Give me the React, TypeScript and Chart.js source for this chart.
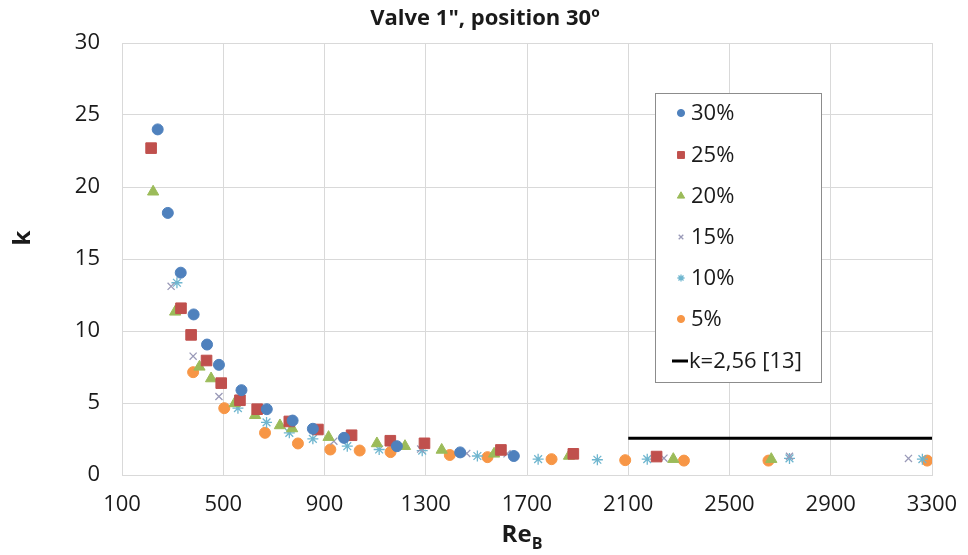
import React, { useEffect, useRef } from "react";
import { Chart, registerables } from "chart.js";
import { drawPoint } from "chart.js/helpers";

Chart.register(...registerables);

const TITLE = "Valve 1\", position 30º";
const X_TITLE = "Re";
const X_TITLE_SUB = "B";
const Y_TITLE = "k";
const X_MIN = 100;
const X_MAX = 3300;
const X_STEP = 400;
const Y_MIN = 0;
const Y_MAX = 30;
const Y_STEP = 5;

const s30x = [241, 281, 332, 383, 436, 483, 572, 672, 774, 854, 977, 1186, 1436, 1648];
const s30y = [24.0, 18.2, 14.05, 11.15, 9.06, 7.65, 5.89, 4.57, 3.78, 3.21, 2.58, 2.0, 1.57, 1.32];

const s25x = [215, 333, 373, 434, 492, 566, 634, 761, 874, 1007, 1160, 1295, 1597, 1883, 2212];
const s25y = [22.7, 11.58, 9.73, 7.95, 6.38, 5.19, 4.57, 3.72, 3.16, 2.76, 2.38, 2.2, 1.74, 1.47, 1.28];

const s20x = [223, 310, 406, 452, 545, 626, 724, 772, 916, 1107, 1218, 1363, 1570, 1866, 2278, 2665];
const s20y = [19.67, 11.33, 7.51, 6.7, 4.97, 4.15, 3.44, 3.23, 2.63, 2.19, 2.0, 1.74, 1.47, 1.32, 1.1, 1.1];

const s15x = [294, 381, 483, 937, 1280, 1462, 1621, 2241, 2737, 3207];
const s15y = [13.1, 8.25, 5.45, 2.35, 1.8, 1.5, 1.47, 1.17, 1.3, 1.15];

const s10x = [317, 558, 671, 761, 854, 990, 1116, 1286, 1504, 1744, 1978, 2175, 2737, 3262];
const s10y = [13.35, 4.64, 3.65, 2.93, 2.51, 2.0, 1.77, 1.69, 1.32, 1.1, 1.06, 1.1, 1.15, 1.1];

const s5x = [381, 504, 665, 795, 923, 1039, 1161, 1395, 1544, 1797, 2088, 2320, 2654, 3281];
const s5y = [7.14, 4.64, 2.93, 2.19, 1.77, 1.7, 1.59, 1.39, 1.24, 1.1, 1.03, 1.0, 1.0, 1.0];

const refX = [2100, 3300];
const refY = [2.56, 2.56];

const seriesLabels = ["30%", "25%", "20%", "15%", "10%", "5%", "k=2,56 [13]"];

const FONT = "'Open Sans', 'Liberation Sans', sans-serif";

const zip = (xs: number[], ys: number[]) => xs.map((x, i) => ({ x, y: ys[i] }));

const titlesPlugin = {
  id: "customTitles",
  afterDraw(chart: any) {
    const ctx = chart.ctx;
    const area = chart.chartArea;
    ctx.save();
    ctx.fillStyle = "#1a1a1a";
    ctx.font = `bold 22px ${FONT}`;
    ctx.textAlign = "center";
    ctx.textBaseline = "middle";
    ctx.fillText(TITLE, 485, 19);
    ctx.font = `bold 24px ${FONT}`;
    const w1 = ctx.measureText(X_TITLE).width;
    ctx.font = `bold 16px ${FONT}`;
    const w2 = ctx.measureText(X_TITLE_SUB).width;
    const cx = (area.left + area.right) / 2;
    const start = cx - (w1 + w2) / 2 - 5;
    ctx.textAlign = "left";
    ctx.font = `bold 24px ${FONT}`;
    ctx.fillText(X_TITLE, start, 535);
    ctx.font = `bold 16px ${FONT}`;
    ctx.fillText(X_TITLE_SUB, start + w1, 544);
    ctx.translate(23, 238);
    ctx.rotate(-Math.PI / 2);
    ctx.textAlign = "center";
    ctx.font = `bold 24px ${FONT}`;
    ctx.fillText(Y_TITLE, 0, 0);
    ctx.restore();

    const bx = 655, by = 93, bw = 166, bh = 289;
    ctx.save();
    ctx.fillStyle = "#ffffff";
    ctx.fillRect(bx, by, bw, bh);
    ctx.strokeStyle = "#8c8c8c";
    ctx.lineWidth = 1;
    ctx.strokeRect(bx + 0.5, by + 0.5, bw, bh);
    const rows = [113, 155, 196, 237, 278, 319, 361];
    chart.data.datasets.forEach((ds: any, i: number) => {
      const yy = rows[i];
      if (ds.showLine) {
        ctx.strokeStyle = ds.borderColor;
        ctx.lineWidth = 3;
        ctx.beginPath();
        ctx.moveTo(672, yy);
        ctx.lineTo(688, yy);
        ctx.stroke();
      } else {
        ctx.fillStyle = ds.pointBackgroundColor;
        ctx.strokeStyle = ds.pointBorderColor;
        ctx.lineWidth = ds.pointBorderWidth;
        drawPoint(
          ctx,
          {
            pointStyle: ds.pointStyle,
            radius: ds.pointRadius * 0.65,
            borderWidth: ds.pointBorderWidth,
            rotation: 0,
          } as any,
          681,
          yy
        );
      }
      ctx.fillStyle = "#1a1a1a";
      ctx.font = `22px ${FONT}`;
      ctx.textAlign = "left";
      ctx.textBaseline = "middle";
      ctx.fillText(ds.label, ds.showLine ? 689 : 691, yy + 1);
    });
    ctx.restore();
  },
};

export default function App() {
  const ref = useRef<HTMLCanvasElement>(null);
  useEffect(() => {
    if (!ref.current) return;
    const pt = (label: string, data: any[], style: string, color: string, r: number, bw = 1) => ({
      label,
      data,
      showLine: false,
      pointStyle: style,
      pointRadius: r,
      pointBorderWidth: bw,
      pointBackgroundColor: color,
      pointBorderColor: color,
      backgroundColor: color,
      borderColor: color,
    });
    const chart = new Chart(ref.current, {
      type: "scatter",
      data: {
        datasets: [
          pt(seriesLabels[0], zip(s30x, s30y), "circle", "#4F81BD", 5.5),
          pt(seriesLabels[1], zip(s25x, s25y), "rect", "#C0504D", 7.5),
          pt(seriesLabels[2], zip(s20x, s20y), "triangle", "#9BBB59", 6.5),
          pt(seriesLabels[3], zip(s15x, s15y), "crossRot", "#9a9ab8", 5, 1.3),
          pt(seriesLabels[4], zip(s10x, s10y), "star", "#6fb6cf", 5.5, 1.3),
          pt(seriesLabels[5], zip(s5x, s5y), "circle", "#F79646", 5.5),
          {
            label: seriesLabels[6],
            data: zip(refX, refY),
            showLine: true,
            borderColor: "#000000",
            backgroundColor: "#000000",
            borderWidth: 3,
            pointRadius: 0,
          } as any,
        ],
      },
      options: {
        animation: false,
        responsive: false,
        layout: { padding: { top: 43, right: 36, left: 0, bottom: 0 } },
        plugins: {
          legend: { display: false },
          title: { display: false },
          tooltip: { enabled: false },
        },
        scales: {
          x: {
            type: "linear",
            min: X_MIN,
            max: X_MAX,
            ticks: {
              stepSize: X_STEP,
              color: "#1a1a1a",
              font: { family: FONT, size: 22 },
              padding: 17,
              callback: (v: any) => String(v),
            },
            grid: { color: "#d9d9d9", drawTicks: false, lineWidth: 1 },
            border: { color: "#d9d9d9" },
            afterFit: (s: any) => {
              s.height = 80;
              s.paddingRight = 0;
            },
          },
          y: {
            type: "linear",
            min: Y_MIN,
            max: Y_MAX,
            ticks: {
              stepSize: Y_STEP,
              color: "#1a1a1a",
              font: { family: FONT, size: 22 },
              padding: 22,
            },
            grid: { color: "#d9d9d9", drawTicks: false, lineWidth: 1 },
            border: { color: "#d9d9d9" },
            afterFit: (s: any) => {
              s.width = 122;
            },
          },
        },
      },
      plugins: [titlesPlugin],
    });
    return () => chart.destroy();
  }, []);
  return (
    <div style={{ position: "absolute", left: 0, top: 0, width: 968, height: 555, background: "#fff" }}>
      <canvas ref={ref} width={968} height={555} style={{ width: 968, height: 555 }} />
    </div>
  );
}
